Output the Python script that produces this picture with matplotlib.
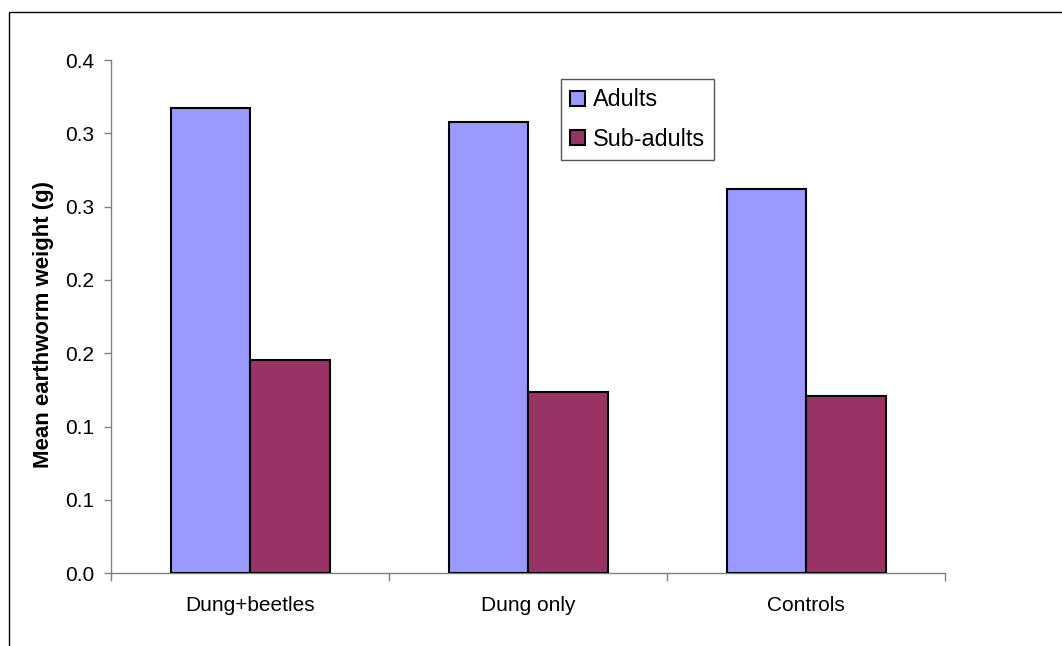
import matplotlib
matplotlib.use("Agg")
import matplotlib.pyplot as plt
from matplotlib.patches import Rectangle
import numpy as np

plt.rcParams['font.family'] = ['Liberation Sans', 'DejaVu Sans']

# Data
categories = ["Dung+beetles", "Dung only", "Controls"]
adults = [0.3175, 0.3079, 0.2618]
sub_adults = [0.1456, 0.1238, 0.1211]
series_names = ["Adults", "Sub-adults"]
y_ticks = [0.0, 0.05, 0.10, 0.15, 0.20, 0.25, 0.30, 0.35]
y_tick_labels = ["0.0", "0.1", "0.1", "0.2", "0.2", "0.3", "0.3", "0.4"]

W, H = 1062, 646
fig = plt.figure(figsize=(W / 100, H / 100), dpi=100)
fig.patch.set_facecolor("white")

# Outer chart frame (runs off the right and bottom edges)
fig.patches.append(Rectangle((9 / W, -0.1), 1.2, 1 - 12 / H + 0.1,
                             transform=fig.transFigure, fill=False,
                             edgecolor="black", linewidth=1.0))

ax = fig.add_axes([111 / W, 1 - 573.3 / H, (945.3 - 111) / W, (573.3 - 60) / H])

x = np.arange(len(categories))
gap = 1.5
bw = 1.0 / (2 + gap)
ax.bar(x + 0.5 - bw / 2, adults, width=bw, color="#9999FF",
       edgecolor="black", linewidth=1.5, label=series_names[0], zorder=3)
ax.bar(x + 0.5 + bw / 2, sub_adults, width=bw, color="#993366",
       edgecolor="black", linewidth=1.5, label=series_names[1], zorder=3)

ax.set_xlim(0, len(categories))
ax.set_ylim(0, 0.35)

ax.set_yticks(y_ticks)
ax.set_yticklabels(y_tick_labels, fontsize=15)
ax.tick_params(axis="y", direction="out", length=5, width=1,
               color="#808080", pad=7)

# Ticks between categories, labels centred under each group
ax.set_xticks(np.arange(len(categories) + 1))
ax.set_xticklabels([])
ax.tick_params(axis="x", which="major", direction="out", length=6,
               width=1, color="#808080")
ax.set_xticks(x + 0.5, minor=True)
ax.set_xticklabels(categories, minor=True, fontsize=15)
ax.tick_params(axis="x", which="minor", length=0, pad=16)

for side in ("top", "right"):
    ax.spines[side].set_visible(False)
for side in ("left", "bottom"):
    ax.spines[side].set_color("#808080")
    ax.spines[side].set_linewidth(1.0)

ax.set_ylabel("Mean earthworm weight (g)", fontsize=16, fontweight="bold")
ax.yaxis.set_label_coords(54 / W, 1 - 325 / H, transform=fig.transFigure)

leg = ax.legend(loc="upper left", bbox_to_anchor=(561 / W, 1 - 79 / H),
                bbox_transform=fig.transFigure, borderaxespad=0,
                fontsize=16.8, frameon=True, fancybox=False,
                handlelength=0.62, handleheight=0.62, handletextpad=0.35,
                labelspacing=0.7, borderpad=0.4)
frame = leg.get_frame()
frame.set_edgecolor("#555555")
frame.set_linewidth(1.0)
frame.set_alpha(1)

fig.savefig("out.png", dpi=100, facecolor="white")
